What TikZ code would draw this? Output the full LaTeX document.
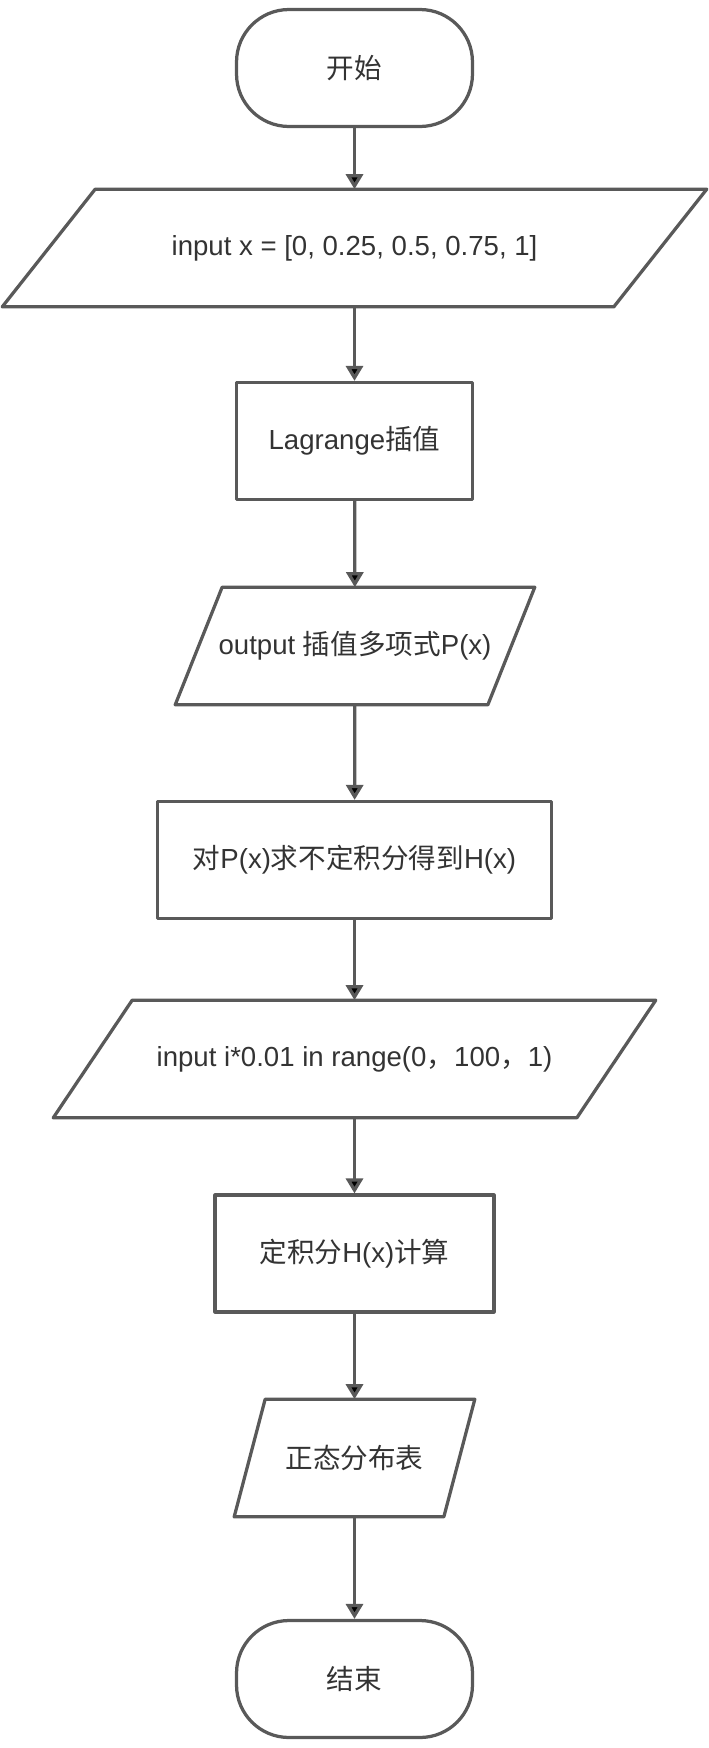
\documentclass[tikz,border=0pt]{standalone}
\usepackage{fontspec}
\setmainfont{Liberation Sans}
\newfontfamily\cjk{Noto Sans CJK SC}
\usetikzlibrary{positioning,arrows.meta}
\definecolor{linegray}{HTML}{595959}
\definecolor{textgray}{HTML}{333333}

\begin{document}
\begin{tikzpicture}[x=0.02cm,y=-0.02cm,
        every node/.style={font=\fontsize{15.7pt}{18pt}\selectfont,text=textgray},
        line/.style={draw=linegray,line width=0.065cm,line join=round},
        terminal/.style={line,rounded corners=1.05cm,minimum width=4.72cm,minimum height=2.34cm},
        process/.style={line,minimum height=2.34cm},
        io/.style={minimum height=2.34cm},
        flow/.style={draw=linegray,line width=0.065cm,-{Triangle[width=0.34cm,length=0.3cm]}}]
                \useasboundingbox (0,0) rectangle (708,1748);

                \node[terminal] (start)   at (354.5,68)   {{\cjk 开始}};
                \node[io,minimum width=12.22cm] (inx) at (354.5,248) {input x = [0, 0.25, 0.5, 0.75, 1]};
                \node[process,minimum width=4.72cm] (lagr) at (354.5,441) {Lagrange{\cjk 插值}};
                \node[io,minimum width=6.24cm] (outp) at (355,646) {output {\cjk 插值多项式}P(x)};
                \node[process,minimum width=7.88cm] (integ) at (354.5,860) {{\cjk 对}P(x){\cjk 求不定积分得到}H(x)};
                \node[io,minimum width=10.46cm] (inrange) at (354.5,1059) {input i*0.01 in range(0{\cjk ，}100{\cjk ，}1)};
                \node[process,minimum width=5.58cm] (defint) at (354.5,1253.5) {{\cjk 定积分}H(x){\cjk 计算}};
                \node[io,minimum width=4.18cm] (normtab) at (354.5,1458) {{\cjk 正态分布表}};
                \node[terminal] (stop)    at (354.5,1679) {{\cjk 结束}};

                % slanted frames for the input/output boxes
                \draw[line] ([xshift=0.93cm]inx.north west) -- ([xshift=0.93cm]inx.north east)
                    -- ([xshift=-0.93cm]inx.south east) -- ([xshift=-0.93cm]inx.south west) -- cycle;
                \draw[line] ([xshift=0.47cm]outp.north west) -- ([xshift=0.47cm]outp.north east)
                    -- ([xshift=-0.47cm]outp.south east) -- ([xshift=-0.47cm]outp.south west) -- cycle;
                \draw[line] ([xshift=0.79cm]inrange.north west) -- ([xshift=0.79cm]inrange.north east)
                    -- ([xshift=-0.79cm]inrange.south east) -- ([xshift=-0.79cm]inrange.south west) -- cycle;
                \draw[line] ([xshift=0.31cm]normtab.north west) -- ([xshift=0.31cm]normtab.north east)
                    -- ([xshift=-0.31cm]normtab.south east) -- ([xshift=-0.31cm]normtab.south west) -- cycle;

                \path[flow]
                (start)   edge (inx)
                (inx)     edge (lagr)
                (lagr)    edge (outp)
                (outp)    edge (integ)
                (integ)   edge (inrange)
                (inrange) edge (defint)
                (defint)  edge (normtab)
                (normtab) edge (stop);
            \end{tikzpicture}
\end{document}
